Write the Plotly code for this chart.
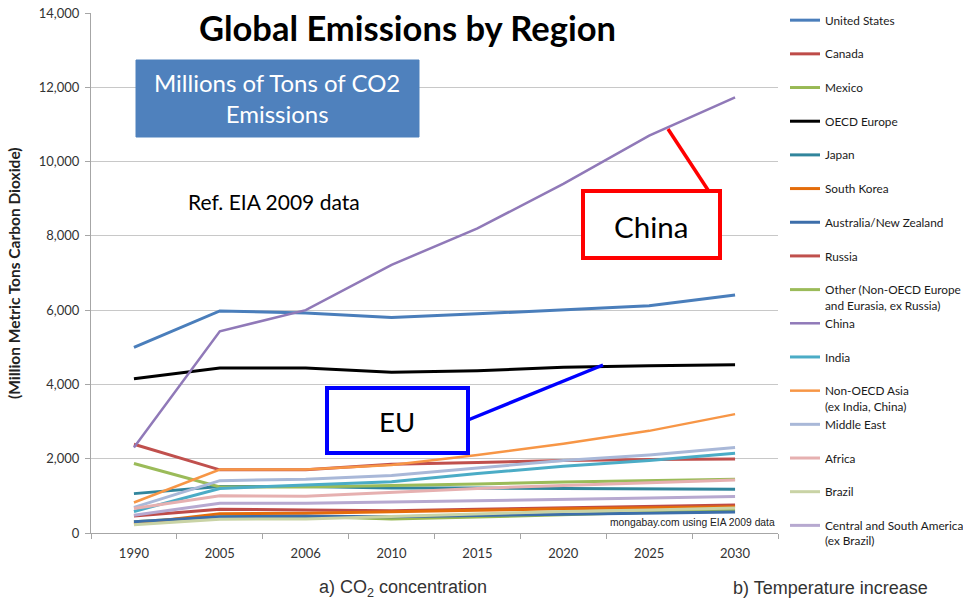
import plotly.graph_objects as go

# Forecast years (category axis)
years = ["1990", "2005", "2006", "2010", "2015", "2020", "2025", "2030"]

# CO2 emissions, million metric tons
united_states = [5000, 5980, 5920, 5800, 5900, 6000, 6120, 6410]
canada = [460, 640, 620, 600, 640, 680, 720, 755]
mexico = [300, 440, 450, 380, 430, 500, 560, 620]
oecd_europe = [4150, 4440, 4440, 4330, 4370, 4460, 4500, 4530]
japan = [1060, 1250, 1250, 1210, 1210, 1200, 1190, 1180]
south_korea = [250, 520, 530, 560, 610, 650, 680, 710]
australia_nz = [300, 440, 450, 440, 470, 500, 530, 565]
russia = [2390, 1700, 1700, 1850, 1900, 1950, 1980, 1990]
other_eurasia = [1870, 1240, 1240, 1270, 1320, 1370, 1410, 1450]
china = [2300, 5430, 6000, 7220, 8200, 9400, 10700, 11730]
india = [580, 1200, 1290, 1380, 1600, 1800, 1950, 2150]
non_oecd_asia = [820, 1710, 1710, 1830, 2100, 2400, 2750, 3200]
middle_east = [690, 1410, 1450, 1550, 1750, 1950, 2100, 2300]
africa = [660, 1000, 990, 1100, 1200, 1280, 1350, 1430]
brazil = [220, 370, 380, 450, 520, 580, 620, 670]
central_south_america = [480, 800, 800, 830, 870, 910, 940, 980]

# Legend labels: every entry gets two text rows so the items are evenly spaced
NB = "\u00a0"
series = [
    ("United States<br>" + NB, united_states, "#4A7EBB"),
    ("Canada<br>" + NB, canada, "#BE4B48"),
    ("Mexico<br>" + NB, mexico, "#98B954"),
    ("OECD Europe<br>" + NB, oecd_europe, "#000000"),
    ("Japan<br>" + NB, japan, "#31859C"),
    ("South Korea<br>" + NB, south_korea, "#E46C0A"),
    ("Australia/New Zealand<br>" + NB, australia_nz, "#3C6EAA"),
    ("Russia<br>" + NB, russia, "#C0504D"),
    ("Other (Non-OECD Europe<br>and Eurasia, ex Russia)", other_eurasia, "#9BBB59"),
    ("China<br>" + NB, china, "#9079B8"),
    ("India<br>" + NB, india, "#4BACC6"),
    ("Non-OECD Asia<br>(ex India, China)", non_oecd_asia, "#F79646"),
    ("Middle East<br>" + NB, middle_east, "#A9B8D8"),
    ("Africa<br>" + NB, africa, "#E6B0B0"),
    ("Brazil<br>" + NB, brazil, "#C9D3A5"),
    ("Central and South America<br>(ex Brazil)", central_south_america, "#B7A9D0"),
]

W, H = 963, 603
L, R, T, B = 91, 778, 13, 533


def px(x):
    return (x - L) / (R - L)


def py(y):
    return (B - y) / (B - T)


fig = go.Figure()
for i, (name, vals, color) in enumerate(series):
    fig.add_trace(go.Scatter(
        x=years, y=vals, mode="lines", name=name,
        line=dict(color=color, width=3 if "China" not in name else 2.5),
        legendgroup=f"g{i}",
    ))

shapes = []
annotations = []


def label(x, y, text, size, color="#000000", family="Lato", xanchor="center", **kw):
    annotations.append(dict(
        x=px(x), y=py(y), xref="paper", yref="paper", showarrow=False,
        xanchor=xanchor, yanchor="middle", text=text,
        font=dict(family=family, size=size, color=color), **kw,
    ))


# Title
label(407, 27, "<b>Global Emissions by Region</b>", 34.5)

# Blue units box
shapes.append(dict(type="rect", xref="paper", yref="paper",
                   x0=px(136), x1=px(419), y0=py(137), y1=py(60),
                   fillcolor="#4F81BD", line=dict(color="#4F81BD", width=1),
                   layer="above"))
label(277, 98, "Millions of Tons of CO2<br>Emissions", 24, color="#FFFFFF")

label(186, 201, "Ref. EIA 2009 data", 21, xanchor="left")

# China callout
shapes.append(dict(type="line", xref="paper", yref="paper",
                   x0=px(668), y0=py(129), x1=px(708), y1=py(190),
                   line=dict(color="#FF0000", width=3.5), layer="above"))
shapes.append(dict(type="rect", xref="paper", yref="paper",
                   x0=px(583), x1=px(720), y0=py(258), y1=py(191),
                   fillcolor="#FFFFFF", line=dict(color="#FF0000", width=4),
                   layer="above"))
label(651, 226, "China", 29.5)

# EU callout
shapes.append(dict(type="line", xref="paper", yref="paper",
                   x0=px(468), y0=py(420), x1=px(603), y1=py(365),
                   line=dict(color="#0000FF", width=3.5), layer="above"))
shapes.append(dict(type="rect", xref="paper", yref="paper",
                   x0=px(327), x1=px(468), y0=py(453), y1=py(388),
                   fillcolor="#FFFFFF", line=dict(color="#0000FF", width=4),
                   layer="above"))
label(397, 421, "EU", 27.5)

# Source note
label(777, 522, "mongabay.com using EIA 2009 data", 10.3, color="#222222",
      family="Liberation Sans", xanchor="right")

# Y axis title
label(14, 273, "<b>(Million Metric Tons Carbon Dioxide)</b>", 15.5,
      color="#222222", textangle=-90)

# Bottom captions
label(403, 588, "a) CO<sub>2</sub> concentration", 18, color="#333333",
      family="Liberation Sans")
label(830, 588, "b) Temperature increase", 18, color="#333333",
      family="Liberation Sans")

fig.update_layout(
    width=W, height=H,
    margin=dict(l=L, r=W - R, t=T, b=H - B, pad=0, autoexpand=False),
    paper_bgcolor="#FFFFFF", plot_bgcolor="#FFFFFF",
    showlegend=True,
    legend=dict(
        x=px(785), y=py(6), xanchor="left", yanchor="top",
        font=dict(family="Lato", size=11.8, color="#1A1A1A"),
        itemwidth=30, tracegroupgap=0, valign="top",
        bgcolor="rgba(0,0,0,0)", maxheight=603,
    ),
    shapes=shapes,
    annotations=annotations,
    xaxis=dict(
        type="category", range=[-0.5, 7.5], tickson="boundaries",
        ticks="outside", ticklen=5, ticklabelstandoff=8,
        tickcolor="#A6A6A6", showline=True, linecolor="#A6A6A6", linewidth=1,
        showgrid=False, tickfont=dict(family="Lato", size=13, color="#333333"),
    ),
    yaxis=dict(
        range=[0, 14000], dtick=2000, tickformat=",", ticks="outside", ticklen=5,
        ticklabelstandoff=3,
        tickcolor="#A6A6A6", showline=True, linecolor="#A6A6A6", linewidth=1,
        gridcolor="#C8C8C8", gridwidth=1, zeroline=False,
        tickfont=dict(family="Lato", size=13, color="#333333"),
    ),
)

fig.write_html("out.html")
